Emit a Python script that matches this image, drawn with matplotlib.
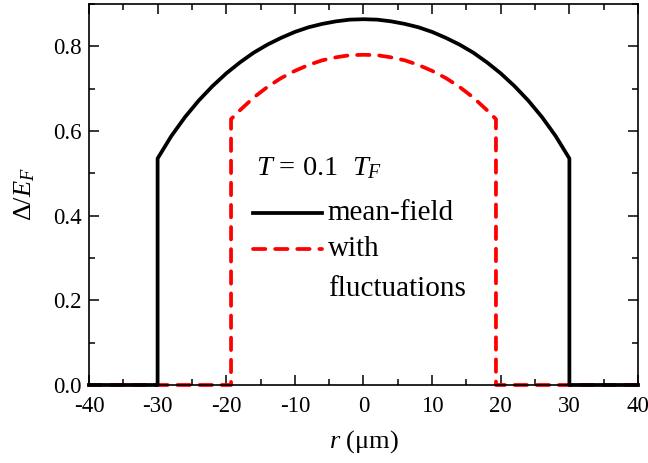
import matplotlib
matplotlib.use("Agg")
import matplotlib.pyplot as plt
from matplotlib.ticker import MultipleLocator, FormatStrFormatter

plt.rcParams['font.family'] = ['Liberation Serif', 'DejaVu Serif']
plt.rcParams['mathtext.fontset'] = 'custom'
plt.rcParams['mathtext.rm'] = 'Liberation Serif'
plt.rcParams['mathtext.it'] = 'Liberation Serif:italic'
plt.rcParams['axes.unicode_minus'] = False

# mean-field gap profile (r in um, Delta/E_F)
r_mf = [-40, -30, -30, -28, -26, -24, -22, -20, -18, -16, -14, -12, -10, -8, -6, -4, -2, 0,
        2, 4, 6, 8, 10, 12, 14, 16, 18, 20, 22, 24, 26, 28, 30, 30, 40]
d_mf = [0.0, 0.0, 0.535, 0.588, 0.633, 0.672, 0.706, 0.736, 0.762, 0.785, 0.804, 0.820, 0.834,
        0.845, 0.853, 0.859, 0.863, 0.864,
        0.863, 0.859, 0.853, 0.845, 0.834, 0.820, 0.804, 0.785, 0.762, 0.736, 0.706, 0.672,
        0.633, 0.588, 0.535, 0.0, 0.0]

# with fluctuations
r_fl = [-40, -19.3, -19.3, -18, -16, -14, -12, -10, -8, -6, -4, -2, 0,
        2, 4, 6, 8, 10, 12, 14, 16, 18, 19.3, 19.3, 40]
d_fl = [0.0, 0.0, 0.628, 0.649, 0.679, 0.704, 0.725, 0.742, 0.756, 0.767, 0.774, 0.779, 0.780,
        0.779, 0.774, 0.767, 0.756, 0.742, 0.725, 0.704, 0.679, 0.649, 0.628, 0.0, 0.0]

LW = 2.7
DASH = (3.3, 2.6)

fig = plt.figure(figsize=(6.48, 4.63), dpi=100)
ax = fig.add_axes([0.1373, 0.1685, 0.8473, 0.8229])

ax.plot(r_fl, d_fl, color='#ff0000', lw=LW, dashes=DASH, dash_capstyle='round',
        zorder=2, clip_on=False)
ax.plot(r_mf, d_mf, color='black', lw=LW, zorder=3, clip_on=False)

ax.set_xlim(-40, 40)
ax.set_ylim(0, 0.9)
ax.xaxis.set_major_locator(MultipleLocator(10))
ax.xaxis.set_minor_locator(MultipleLocator(5))
ax.yaxis.set_major_locator(MultipleLocator(0.2))
ax.yaxis.set_minor_locator(MultipleLocator(0.1))
ax.yaxis.set_major_formatter(FormatStrFormatter('%.1f'))
ax.tick_params(which='both', direction='in', top=True, right=True, width=1.1, labelsize=16.5)
ax.tick_params(which='major', length=7)
ax.tick_params(which='minor', length=4)
ax.tick_params(axis='x', pad=8)
ax.tick_params(axis='y', pad=5)
for s in ax.spines.values():
    s.set_linewidth(1.2)

ax.set_xlabel(r'$\it{r}$ (μm)', fontsize=19, labelpad=8)
ax.set_ylabel(r'$\Delta/\it{E}_{\it{F}}$', fontsize=19, labelpad=12)

# legend block
ax.text(0.305, 0.55, r'$\it{T}$ = 0.1  $\it{T}_{\it{F}}$', transform=ax.transAxes,
        fontsize=20.5, va='baseline', ha='left')
ax.plot([0.299, 0.424], [0.452, 0.452], transform=ax.transAxes, color='black', lw=LW)
ax.plot([0.299, 0.424], [0.357, 0.357], transform=ax.transAxes, color='#ff0000', lw=LW,
        dashes=DASH, dash_capstyle='round')
ax.text(0.435, 0.452, 'mean-field', transform=ax.transAxes, fontsize=21, va='center', ha='left')
ax.text(0.435, 0.357, 'with', transform=ax.transAxes, fontsize=21, va='center', ha='left')
ax.text(0.435, 0.252, 'fluctuations', transform=ax.transAxes, fontsize=21, va='center', ha='left')

fig.savefig('out.png', dpi=100)
